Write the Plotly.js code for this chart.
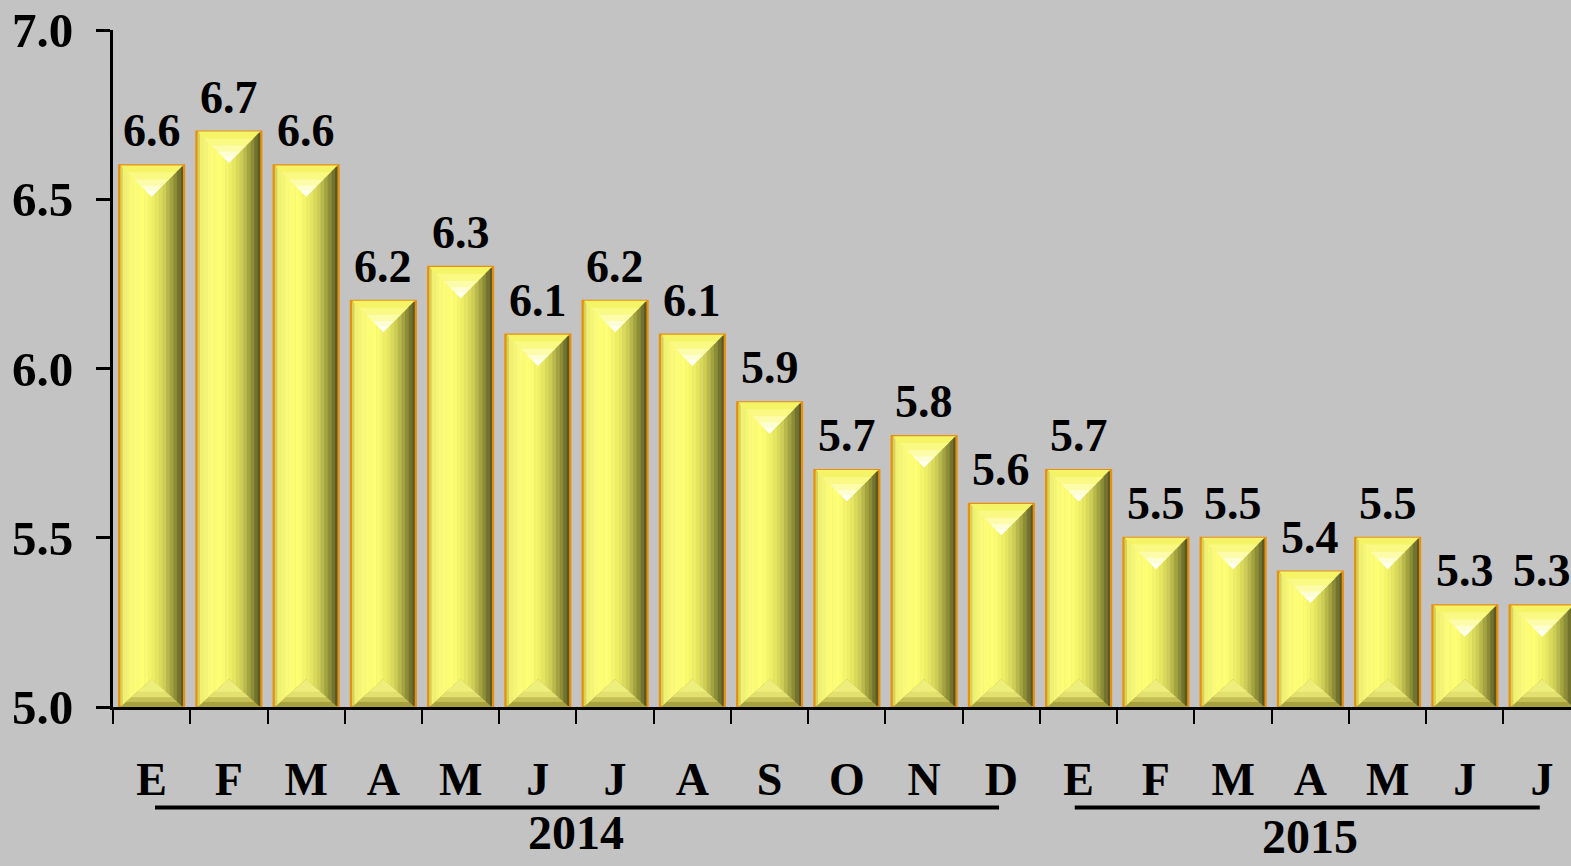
<!DOCTYPE html>
<html>
<head>
<meta charset="utf-8">
<script src="https://cdn.plot.ly/plotly-3.0.1.min.js"></script>
<style>html,body{margin:0;padding:0;background:#c3c3c3;overflow:hidden;}</style>
</head>
<body>
<div id="chart" style="width:1571px;height:866px;"></div>
<script>
// ---- data ----
const months = ["E","F","M","A","M","J","J","A","S","O","N","D","E","F","M","A","M","J","J"];
const values = [6.6,6.7,6.6,6.2,6.3,6.1,6.2,6.1,5.9,5.7,5.8,5.6,5.7,5.5,5.5,5.4,5.5,5.3,5.3];
const years = ["2014","2015"];
const yTicks = [5.0,5.5,6.0,6.5,7.0];

// ---- style ----
const FONT = "Liberation Serif, Times New Roman, serif";
const BG = "#c3c3c3";
const BASE = 5.0;
const HALF = 0.42;         // half bar width (category units)
const IN = 0.405;          // inner half width for bevel facets
const TOPD = 0.092;        // top bevel depth (y units)
const BOTD = 0.082;        // bottom bevel depth (y units)
const idx = values.map((v,i)=>i);

function hex(c){return [parseInt(c.slice(1,3),16),parseInt(c.slice(3,5),16),parseInt(c.slice(5,7),16)];}
const stops = [[0,"#c4bc44"],[0.06,"#eeee70"],[0.2,"#fbfb78"],[0.38,"#ffff72"],[0.55,"#ecec62"],[0.7,"#cccc54"],[0.85,"#929238"],[1,"#4c4c20"]];
function gcol(t){
  for(let k=0;k<stops.length-1;k++){
    const [t0,c0]=stops[k],[t1,c1]=stops[k+1];
    if(t>=t0&&t<=t1){const f=(t-t0)/(t1-t0);const a=hex(c0),b=hex(c1);
      return "rgb("+a.map((x,j)=>Math.round(x+(b[j]-x)*f)).join(",")+")";}
  }
  return stops[stops.length-1][1];
}

const traces = [];
const N = 18;
const sw = 2*HALF/N;
for(let k=0;k<N;k++){
  traces.push({type:"bar",x:idx,y:values.map(v=>v-BASE),base:BASE,width:sw*1.08,offset:-HALF+k*sw,
    marker:{color:gcol((k+0.5)/N),line:{width:0}},hoverinfo:"skip",showlegend:false});
}
// outline
traces.push({type:"bar",x:idx,y:values.map(v=>v-BASE),base:BASE,width:2*HALF,
  marker:{color:"rgba(0,0,0,0)",line:{color:"#e8900c",width:2.2}},hoverinfo:"skip",showlegend:false});

function tri(dir, depth, s){
  const xs=[],ys=[];
  values.forEach((v,i)=>{
    const ay = dir<0 ? v-depth : BASE+depth;
    const ey = dir<0 ? ay+depth*s : ay-depth*s;
    xs.push(i, i-IN*s, i+IN*s, i, null);
    ys.push(ay, ey, ey, ay, null);
  });
  return {xs,ys};
}
function addTri(dir, depth, s, color){
  const t=tri(dir,depth,s);
  traces.push({type:"scatter",mode:"lines",x:t.xs,y:t.ys,fill:"toself",fillcolor:color,
    line:{width:0,color:color},hoverinfo:"skip",showlegend:false,cliponaxis:true});
}
// top facet (light with white highlight toward apex)
addTri(-1,TOPD,1.0,"#f4f466");
addTri(-1,TOPD,0.78,"#f9f984");
addTri(-1,TOPD,0.55,"#fcfcaa");
addTri(-1,TOPD,0.35,"#fefed4");
addTri(-1,TOPD,0.18,"#fffff4");
// bottom facet (lighter at apex, darker toward base)
addTri(1,BOTD,1.0,"#a8a23e");
addTri(1,BOTD,0.82,"#c4c056");
addTri(1,BOTD,0.65,"#e2e06e");
addTri(1,BOTD,0.45,"#eeee7c");

// value labels
const annotations = values.map((v,i)=>({x:i,y:v,xref:"x",yref:"y",text:v.toFixed(1),showarrow:false,
  yanchor:"bottom",yshift:7,font:{family:FONT,size:46,color:"#000",weight:"bold"}}));
// year labels (bottom of text box near the page edge)
const yearX=[5.5,15.0], yearY=[-0.2275,-0.2335];
years.forEach((yr,k)=>annotations.push({x:yearX[k],y:yearY[k],xref:"x",yref:"paper",text:yr,showarrow:false,
  yanchor:"bottom",font:{family:FONT,size:48,color:"#000",weight:"bold"}}));
const lineSpans=[[0.044,10.97],[11.95,17.97]];
const shapes=lineSpans.map(s=>({type:"line",xref:"x",yref:"paper",x0:s[0],x1:s[1],y0:-0.1485,y1:-0.1485,
  line:{color:"#000",width:4}}));

const halves=[]; for(let i=0;i<=values.length;i++) halves.push(i-0.5);

const layout = {
  width:1571,height:866,
  margin:{l:113,r:0,t:30,b:159,pad:0},
  paper_bgcolor:BG,plot_bgcolor:BG,
  barmode:"overlay",showlegend:false,
  xaxis:{range:[-0.5,18.374],tickmode:"array",tickvals:idx,ticktext:months,ticks:"",
    showline:true,linecolor:"#000",linewidth:3,showgrid:false,zeroline:false,
    tickfont:{family:FONT,size:46,color:"#000",weight:"bold"},ticklabelstandoff:30,
    minor:{tickmode:"array",tickvals:halves,ticks:"outside",ticklen:14,tickwidth:2,tickcolor:"#000",showgrid:false},
    fixedrange:true},
  yaxis:{range:[5,7],tickmode:"array",tickvals:yTicks,ticktext:yTicks.map(v=>v.toFixed(1)),
    ticks:"outside",ticklen:14,tickwidth:3,tickcolor:"#000",
    showline:true,linecolor:"#000",linewidth:3,showgrid:false,zeroline:false,
    tickfont:{family:FONT,size:49,color:"#000",weight:"bold"},ticklabelstandoff:13,fixedrange:true},
  annotations:annotations,shapes:shapes
};
Plotly.newPlot("chart",traces,layout,{displayModeBar:false,staticPlot:true});
</script>
</body>
</html>
